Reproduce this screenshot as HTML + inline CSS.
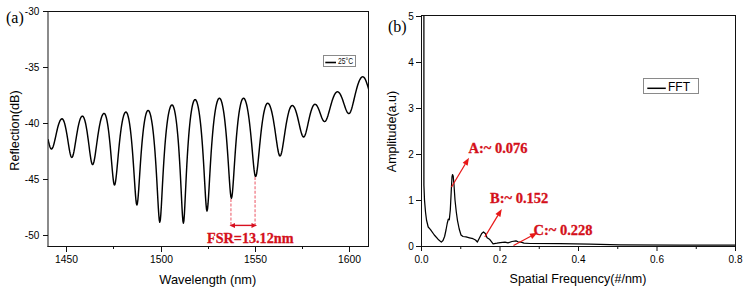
<!DOCTYPE html><html><head><meta charset="utf-8"><style>html,body{margin:0;padding:0;background:#fff;overflow:hidden}svg{display:block}</style></head><body><svg width="747" height="291" viewBox="0 0 747 291">
<rect width="747" height="291" fill="#fff"/>
<defs><clipPath id="cl"><rect x="48.0" y="11.0" width="320.5" height="235.0"/></clipPath><clipPath id="cr"><rect x="421.5" y="15.5" width="314.0" height="231.0"/></clipPath></defs>
<path d="M48.00,139.23 L48.17,140.02 L48.35,140.79 L48.52,141.55 L48.70,142.30 L48.88,143.02 L49.05,143.71 L49.23,144.38 L49.40,145.01 L49.58,145.60 L49.75,146.16 L49.92,146.68 L50.10,147.15 L50.27,147.57 L50.45,147.94 L50.62,148.26 L50.80,148.52 L50.98,148.73 L51.15,148.88 L51.33,148.97 L51.50,149.00 L51.94,148.82 L52.38,148.29 L52.81,147.43 L53.25,146.27 L53.69,144.86 L54.12,143.23 L54.56,141.43 L55.00,139.52 L55.44,137.54 L55.88,135.54 L56.31,133.54 L56.75,131.59 L57.19,129.72 L57.62,127.95 L58.06,126.29 L58.50,124.78 L58.94,123.41 L59.38,122.21 L59.81,121.18 L60.25,120.33 L60.69,119.66 L61.12,119.18 L61.56,118.90 L62.00,118.80 L62.41,118.91 L62.82,119.26 L63.23,119.83 L63.63,120.62 L64.04,121.64 L64.45,122.87 L64.86,124.32 L65.27,125.98 L65.67,127.83 L66.08,129.86 L66.49,132.06 L66.90,134.40 L67.31,136.86 L67.72,139.41 L68.12,142.00 L68.53,144.59 L68.94,147.12 L69.35,149.53 L69.76,151.74 L70.17,153.69 L70.58,155.30 L70.98,156.50 L71.39,157.25 L71.80,157.50 L72.24,157.22 L72.68,156.40 L73.12,155.08 L73.57,153.31 L74.01,151.18 L74.45,148.77 L74.89,146.16 L75.33,143.43 L75.78,140.64 L76.22,137.86 L76.66,135.14 L77.10,132.52 L77.54,130.04 L77.98,127.71 L78.42,125.57 L78.87,123.62 L79.31,121.88 L79.75,120.36 L80.19,119.07 L80.63,118.00 L81.08,117.17 L81.52,116.58 L81.96,116.22 L82.40,116.10 L82.83,116.23 L83.25,116.63 L83.68,117.28 L84.10,118.20 L84.53,119.38 L84.95,120.82 L85.38,122.51 L85.80,124.45 L86.22,126.64 L86.65,129.06 L87.08,131.70 L87.50,134.54 L87.92,137.56 L88.35,140.72 L88.78,143.98 L89.20,147.28 L89.62,150.56 L90.05,153.73 L90.47,156.68 L90.90,159.32 L91.32,161.53 L91.75,163.20 L92.17,164.25 L92.60,164.60 L93.08,164.21 L93.56,163.08 L94.04,161.26 L94.52,158.87 L95.00,156.03 L95.47,152.85 L95.95,149.47 L96.43,145.98 L96.91,142.48 L97.39,139.04 L97.87,135.72 L98.35,132.55 L98.83,129.58 L99.31,126.83 L99.79,124.31 L100.27,122.04 L100.75,120.03 L101.22,118.27 L101.70,116.79 L102.18,115.57 L102.66,114.62 L103.14,113.94 L103.62,113.54 L104.10,113.40 L104.53,113.56 L104.97,114.04 L105.40,114.85 L105.83,115.98 L106.27,117.44 L106.70,119.22 L107.13,121.35 L107.57,123.81 L108.00,126.61 L108.43,129.76 L108.87,133.24 L109.30,137.07 L109.73,141.22 L110.17,145.68 L110.60,150.41 L111.03,155.35 L111.47,160.44 L111.90,165.55 L112.33,170.51 L112.77,175.13 L113.20,179.15 L113.63,182.29 L114.07,184.31 L114.50,185.00 L114.97,184.28 L115.45,182.19 L115.92,178.94 L116.40,174.79 L116.88,170.04 L117.35,164.94 L117.83,159.71 L118.30,154.52 L118.78,149.48 L119.25,144.66 L119.73,140.14 L120.20,135.93 L120.67,132.05 L121.15,128.52 L121.62,125.34 L122.10,122.51 L122.58,120.02 L123.05,117.88 L123.53,116.07 L124.00,114.60 L124.48,113.46 L124.95,112.65 L125.43,112.16 L125.90,112.00 L126.36,112.18 L126.82,112.71 L127.28,113.60 L127.73,114.86 L128.19,116.48 L128.65,118.48 L129.11,120.87 L129.57,123.65 L130.03,126.85 L130.48,130.46 L130.94,134.51 L131.40,139.01 L131.86,143.97 L132.32,149.39 L132.78,155.27 L133.23,161.58 L133.69,168.27 L134.15,175.22 L134.61,182.27 L135.07,189.11 L135.53,195.35 L135.98,200.44 L136.44,203.81 L136.90,205.00 L137.37,203.77 L137.83,200.27 L138.30,195.01 L138.77,188.58 L139.23,181.56 L139.70,174.36 L140.17,167.27 L140.63,160.47 L141.10,154.06 L141.57,148.11 L142.03,142.62 L142.50,137.61 L142.97,133.07 L143.43,128.99 L143.90,125.34 L144.37,122.13 L144.83,119.33 L145.30,116.92 L145.77,114.91 L146.23,113.28 L146.70,112.01 L147.17,111.12 L147.63,110.58 L148.10,110.40 L148.59,110.59 L149.07,111.15 L149.56,112.09 L150.05,113.42 L150.54,115.15 L151.03,117.27 L151.51,119.81 L152.00,122.79 L152.49,126.22 L152.97,130.13 L153.46,134.53 L153.95,139.46 L154.44,144.95 L154.93,151.02 L155.41,157.71 L155.90,165.02 L156.39,172.95 L156.88,181.43 L157.36,190.33 L157.85,199.33 L158.34,207.93 L158.83,215.29 L159.31,220.37 L159.80,222.20 L160.31,220.13 L160.82,214.44 L161.33,206.31 L161.83,196.97 L162.34,187.31 L162.85,177.89 L163.36,168.99 L163.87,160.74 L164.38,153.18 L164.88,146.29 L165.39,140.05 L165.90,134.44 L166.41,129.40 L166.92,124.92 L167.43,120.94 L167.93,117.46 L168.44,114.44 L168.95,111.86 L169.46,109.70 L169.97,107.96 L170.47,106.62 L170.98,105.66 L171.49,105.09 L172.00,104.90 L172.47,105.09 L172.95,105.66 L173.43,106.62 L173.90,107.97 L174.38,109.71 L174.85,111.87 L175.32,114.46 L175.80,117.49 L176.28,120.98 L176.75,124.97 L177.22,129.47 L177.70,134.52 L178.18,140.16 L178.65,146.42 L179.12,153.34 L179.60,160.95 L180.08,169.26 L180.55,178.23 L181.03,187.75 L181.50,197.52 L181.97,207.00 L182.45,215.28 L182.93,221.09 L183.40,223.20 L183.89,220.83 L184.38,214.36 L184.86,205.29 L185.35,195.06 L185.84,184.67 L186.32,174.66 L186.81,165.31 L187.30,156.71 L187.79,148.87 L188.28,141.78 L188.76,135.38 L189.25,129.63 L189.74,124.49 L190.22,119.91 L190.71,115.87 L191.20,112.33 L191.69,109.27 L192.18,106.65 L192.66,104.47 L193.15,102.70 L193.64,101.34 L194.12,100.37 L194.61,99.79 L195.10,99.60 L195.60,99.79 L196.09,100.35 L196.59,101.29 L197.08,102.62 L197.58,104.34 L198.07,106.46 L198.57,109.01 L199.07,111.98 L199.56,115.40 L200.06,119.30 L200.55,123.70 L201.05,128.62 L201.55,134.10 L202.04,140.17 L202.54,146.84 L203.03,154.13 L203.53,162.03 L204.03,170.49 L204.52,179.34 L205.02,188.30 L205.51,196.84 L206.01,204.15 L206.50,209.19 L207.00,211.00 L207.52,209.13 L208.03,203.94 L208.55,196.44 L209.07,187.71 L209.58,178.59 L210.10,169.60 L210.62,161.04 L211.13,153.05 L211.65,145.69 L212.17,138.97 L212.68,132.86 L213.20,127.35 L213.72,122.40 L214.23,117.98 L214.75,114.06 L215.27,110.62 L215.78,107.64 L216.30,105.09 L216.82,102.96 L217.33,101.23 L217.85,99.90 L218.37,98.95 L218.88,98.39 L219.40,98.20 L219.90,98.38 L220.40,98.93 L220.90,99.84 L221.40,101.13 L221.90,102.79 L222.40,104.85 L222.90,107.30 L223.40,110.16 L223.90,113.45 L224.40,117.19 L224.90,121.38 L225.40,126.06 L225.90,131.23 L226.40,136.92 L226.90,143.12 L227.40,149.83 L227.90,157.00 L228.40,164.54 L228.90,172.27 L229.40,179.91 L229.90,186.98 L230.40,192.86 L230.90,196.80 L231.40,198.20 L231.90,196.80 L232.41,192.86 L232.91,186.98 L233.42,179.91 L233.92,172.27 L234.43,164.54 L234.93,157.00 L235.43,149.83 L235.94,143.12 L236.44,136.92 L236.95,131.23 L237.45,126.06 L237.95,121.38 L238.46,117.19 L238.96,113.45 L239.47,110.16 L239.97,107.30 L240.47,104.85 L240.98,102.79 L241.48,101.13 L241.99,99.84 L242.49,98.93 L243.00,98.38 L243.50,98.20 L244.00,98.37 L244.51,98.87 L245.01,99.70 L245.52,100.88 L246.02,102.40 L246.53,104.26 L247.03,106.48 L247.53,109.06 L248.04,112.00 L248.54,115.32 L249.05,119.00 L249.55,123.07 L250.05,127.50 L250.56,132.29 L251.06,137.41 L251.57,142.81 L252.07,148.42 L252.57,154.12 L253.08,159.73 L253.58,165.02 L254.09,169.69 L254.59,173.38 L255.10,175.77 L255.60,176.60 L256.10,175.87 L256.61,173.77 L257.11,170.48 L257.62,166.30 L258.12,161.50 L258.62,156.37 L259.13,151.10 L259.63,145.88 L260.14,140.81 L260.64,135.97 L261.15,131.43 L261.65,127.20 L262.15,123.31 L262.66,119.77 L263.16,116.57 L263.67,113.73 L264.17,111.24 L264.68,109.09 L265.18,107.28 L265.68,105.81 L266.19,104.66 L266.69,103.85 L267.20,103.36 L267.70,103.20 L268.21,103.34 L268.72,103.75 L269.24,104.44 L269.75,105.41 L270.26,106.65 L270.77,108.16 L271.29,109.95 L271.80,112.00 L272.31,114.32 L272.82,116.90 L273.34,119.72 L273.85,122.76 L274.36,126.01 L274.88,129.43 L275.39,132.98 L275.90,136.60 L276.41,140.21 L276.93,143.72 L277.44,147.03 L277.95,150.00 L278.46,152.50 L278.98,154.40 L279.49,155.59 L280.00,156.00 L280.51,155.62 L281.02,154.51 L281.54,152.73 L282.05,150.39 L282.56,147.60 L283.07,144.48 L283.59,141.16 L284.10,137.72 L284.61,134.28 L285.12,130.88 L285.64,127.60 L286.15,124.47 L286.66,121.53 L287.18,118.81 L287.69,116.32 L288.20,114.07 L288.71,112.07 L289.23,110.33 L289.74,108.86 L290.25,107.65 L290.76,106.71 L291.28,106.04 L291.79,105.63 L292.30,105.50 L292.77,105.60 L293.24,105.90 L293.71,106.39 L294.18,107.08 L294.65,107.96 L295.12,109.02 L295.60,110.26 L296.07,111.67 L296.54,113.24 L297.01,114.96 L297.48,116.80 L297.95,118.74 L298.42,120.77 L298.89,122.85 L299.36,124.95 L299.83,127.02 L300.30,129.02 L300.78,130.91 L301.25,132.62 L301.72,134.12 L302.19,135.34 L302.66,136.25 L303.13,136.81 L303.60,137.00 L304.08,136.80 L304.55,136.21 L305.03,135.26 L305.50,133.97 L305.98,132.41 L306.45,130.61 L306.93,128.64 L307.40,126.55 L307.88,124.39 L308.35,122.21 L308.82,120.05 L309.30,117.95 L309.78,115.94 L310.25,114.04 L310.73,112.27 L311.20,110.65 L311.68,109.20 L312.15,107.92 L312.62,106.82 L313.10,105.92 L313.57,105.21 L314.05,104.71 L314.52,104.40 L315.00,104.30 L315.40,104.36 L315.80,104.55 L316.20,104.86 L316.60,105.29 L317.00,105.83 L317.40,106.48 L317.80,107.23 L318.20,108.08 L318.60,109.01 L319.00,110.02 L319.40,111.08 L319.80,112.18 L320.20,113.32 L320.60,114.45 L321.00,115.58 L321.40,116.66 L321.80,117.70 L322.20,118.65 L322.60,119.50 L323.00,120.23 L323.40,120.82 L323.80,121.25 L324.20,121.51 L324.60,121.60 L325.14,121.42 L325.68,120.90 L326.21,120.06 L326.75,118.92 L327.29,117.53 L327.83,115.92 L328.36,114.16 L328.90,112.27 L329.44,110.32 L329.98,108.34 L330.51,106.38 L331.05,104.45 L331.59,102.60 L332.12,100.85 L332.66,99.22 L333.20,97.72 L333.74,96.37 L334.27,95.18 L334.81,94.16 L335.35,93.32 L335.89,92.66 L336.43,92.18 L336.96,91.90 L337.50,91.80 L337.98,91.88 L338.45,92.10 L338.93,92.47 L339.40,92.99 L339.88,93.65 L340.35,94.44 L340.82,95.36 L341.30,96.40 L341.77,97.55 L342.25,98.79 L342.72,100.11 L343.20,101.49 L343.68,102.91 L344.15,104.35 L344.62,105.78 L345.10,107.17 L345.57,108.50 L346.05,109.73 L346.52,110.84 L347.00,111.79 L347.47,112.56 L347.95,113.13 L348.42,113.48 L348.90,113.60 L349.48,113.37 L350.06,112.67 L350.64,111.55 L351.22,110.05 L351.80,108.22 L352.38,106.15 L352.95,103.88 L353.53,101.49 L354.11,99.04 L354.69,96.57 L355.27,94.15 L355.85,91.80 L356.43,89.56 L357.01,87.45 L357.59,85.50 L358.17,83.72 L358.75,82.13 L359.32,80.74 L359.90,79.54 L360.48,78.56 L361.06,77.79 L361.64,77.24 L362.22,76.91 L362.80,76.80 L363.23,76.88 L363.65,77.10 L364.07,77.48 L364.50,78.01 L364.93,78.68 L365.35,79.48 L365.78,80.42 L366.20,81.47 L366.62,82.64 L367.05,83.90 L367.48,85.24 L367.90,86.64 L368.32,88.09 L368.75,89.55 L369.18,91.01 L369.60,92.43 L370.02,93.79 L370.45,95.05 L370.88,96.18 L371.30,97.15 L371.73,97.94 L372.15,98.52 L372.57,98.88 L373.00,99.00" fill="none" stroke="#000" stroke-width="1.45" stroke-linejoin="round" clip-path="url(#cl)"/>
<path d="M47.5,11.5 H369 M368.5,11 V247 M47.5,246.5 H369" fill="none" stroke="#111" stroke-width="1"/>
<line x1="48" y1="11" x2="48" y2="247" stroke="#222" stroke-width="1.05"/>
<line x1="43" y1="11.5" x2="48" y2="11.5" stroke="#111" stroke-width="1"/>
<text x="39.3" y="14.8" text-anchor="end" font-family='"Liberation Sans", sans-serif' font-size="10">-30</text>
<line x1="43" y1="67.5" x2="48" y2="67.5" stroke="#111" stroke-width="1"/>
<text x="39.3" y="70.8" text-anchor="end" font-family='"Liberation Sans", sans-serif' font-size="10">-35</text>
<line x1="43" y1="123.5" x2="48" y2="123.5" stroke="#111" stroke-width="1"/>
<text x="39.3" y="126.8" text-anchor="end" font-family='"Liberation Sans", sans-serif' font-size="10">-40</text>
<line x1="43" y1="179.5" x2="48" y2="179.5" stroke="#111" stroke-width="1"/>
<text x="39.3" y="182.8" text-anchor="end" font-family='"Liberation Sans", sans-serif' font-size="10">-45</text>
<line x1="43" y1="235.5" x2="48" y2="235.5" stroke="#111" stroke-width="1"/>
<text x="39.3" y="238.8" text-anchor="end" font-family='"Liberation Sans", sans-serif' font-size="10">-50</text>
<line x1="66.5" y1="246" x2="66.5" y2="252" stroke="#111" stroke-width="1"/>
<text x="66.5" y="262.8" text-anchor="middle" font-family='"Liberation Sans", sans-serif' font-size="10.3">1450</text>
<line x1="161.5" y1="246" x2="161.5" y2="252" stroke="#111" stroke-width="1"/>
<text x="161.5" y="262.8" text-anchor="middle" font-family='"Liberation Sans", sans-serif' font-size="10.3">1500</text>
<line x1="255.5" y1="246" x2="255.5" y2="252" stroke="#111" stroke-width="1"/>
<text x="255.5" y="262.8" text-anchor="middle" font-family='"Liberation Sans", sans-serif' font-size="10.3">1550</text>
<line x1="349.5" y1="246" x2="349.5" y2="252" stroke="#111" stroke-width="1"/>
<text x="349.5" y="262.8" text-anchor="middle" font-family='"Liberation Sans", sans-serif' font-size="10.3">1600</text>
<line x1="113.5" y1="246" x2="113.5" y2="249" stroke="#111" stroke-width="1"/>
<line x1="208.5" y1="246" x2="208.5" y2="249" stroke="#111" stroke-width="1"/>
<line x1="302.5" y1="246" x2="302.5" y2="249" stroke="#111" stroke-width="1"/>
<text x="207.8" y="284" text-anchor="middle" font-family='"Liberation Sans", sans-serif' font-size="12.8">Wavelength (nm)</text>
<text transform="translate(18.5,130.5) rotate(-90)" text-anchor="middle" font-family='"Liberation Sans", sans-serif' font-size="12.7">Reflection(dB)</text>
<text x="6" y="22.8" font-family='"Liberation Serif", serif' font-size="16">(a)</text>
<rect x="323.5" y="55.5" width="32" height="11" fill="#fff" stroke="#8a8a8a" stroke-width="1"/>
<line x1="325.3" y1="62.5" x2="336" y2="62.5" stroke="#000" stroke-width="1.6"/>
<text x="338" y="64.3" font-family='"Liberation Sans", sans-serif' font-size="8.2" fill="#111" textLength="15.2" lengthAdjust="spacingAndGlyphs">25°C</text>
<line x1="230.9" y1="199" x2="230.9" y2="225" stroke="#f4a0a8" stroke-width="1.8" stroke-dasharray="3,1.6"/>
<line x1="255.1" y1="177" x2="255.1" y2="225" stroke="#f4a0a8" stroke-width="1.8" stroke-dasharray="3,1.6"/>
<line x1="233" y1="225.4" x2="253.5" y2="225.4" stroke="#d81020" stroke-width="1.4"/>
<path d="M229.5,225.4 L235,222.9 L235,227.9 Z" fill="#d81020"/>
<path d="M257,225.4 L251.5,222.9 L251.5,227.9 Z" fill="#d81020"/>
<text x="207" y="242.9" font-family='"Liberation Serif", serif' font-weight="bold" font-size="14.2" fill="#d4101a" stroke="#d4101a" stroke-width="0.3">FSR=13.12nm</text>
<path d="M423.90,0.00 L423.90,185.00 L424.50,200.00 L425.50,212.00 L426.50,220.00 L428.20,227.00 L430.50,229.60 L434.30,235.00 L438.00,239.20 L441.30,242.10 L443.00,240.50 L444.60,236.50 L446.00,230.00 L447.20,223.50 L448.30,219.20 L449.30,219.80 L450.30,210.00 L451.20,192.00 L452.00,177.00 L452.50,174.60 L453.20,176.00 L454.00,185.00 L455.00,200.00 L456.30,212.00 L457.50,220.60 L459.20,229.00 L461.00,235.00 L463.00,236.50 L466.10,236.90 L469.50,237.80 L473.00,238.70 L475.50,240.00 L477.40,242.00 L481.70,233.50 L483.50,232.00 L485.30,233.50 L487.10,237.80 L489.50,239.20 L493.10,243.80 L497.00,243.20 L500.30,242.60 L505.00,242.20 L508.00,242.80 L512.00,241.50 L516.00,240.90 L518.00,241.80 L521.00,242.20 L524.00,243.20 L530.00,243.50 L560.00,243.70 L590.00,244.20 L620.00,244.80 L680.00,245.00 L735.00,245.20" fill="none" stroke="#000" stroke-width="1.25" stroke-linejoin="round" clip-path="url(#cr)"/>
<path d="M421,15.5 H736 M735.5,15 V247 M421.5,15 V247 M421,246.5 H736" fill="none" stroke="#111" stroke-width="1"/>
<line x1="416" y1="246.5" x2="421.5" y2="246.5" stroke="#111" stroke-width="1"/>
<text x="413.8" y="249.8" text-anchor="end" font-family='"Liberation Sans", sans-serif' font-size="10">0</text>
<line x1="416" y1="200.5" x2="421.5" y2="200.5" stroke="#111" stroke-width="1"/>
<text x="413.8" y="203.8" text-anchor="end" font-family='"Liberation Sans", sans-serif' font-size="10">1</text>
<line x1="416" y1="154.5" x2="421.5" y2="154.5" stroke="#111" stroke-width="1"/>
<text x="413.8" y="157.8" text-anchor="end" font-family='"Liberation Sans", sans-serif' font-size="10">2</text>
<line x1="416" y1="108.5" x2="421.5" y2="108.5" stroke="#111" stroke-width="1"/>
<text x="413.8" y="111.8" text-anchor="end" font-family='"Liberation Sans", sans-serif' font-size="10">3</text>
<line x1="416" y1="62.5" x2="421.5" y2="62.5" stroke="#111" stroke-width="1"/>
<text x="413.8" y="65.8" text-anchor="end" font-family='"Liberation Sans", sans-serif' font-size="10">4</text>
<line x1="416" y1="16.5" x2="421.5" y2="16.5" stroke="#111" stroke-width="1"/>
<text x="413.8" y="19.8" text-anchor="end" font-family='"Liberation Sans", sans-serif' font-size="10">5</text>
<line x1="421.50" y1="246" x2="421.50" y2="251" stroke="#111" stroke-width="1"/>
<text x="421.5" y="262.6" text-anchor="middle" font-family='"Liberation Sans", sans-serif' font-size="10">0.0</text>
<line x1="460.75" y1="246" x2="460.75" y2="249" stroke="#111" stroke-width="1"/>
<line x1="500.00" y1="246" x2="500.00" y2="251" stroke="#111" stroke-width="1"/>
<text x="500.0" y="262.6" text-anchor="middle" font-family='"Liberation Sans", sans-serif' font-size="10">0.2</text>
<line x1="539.25" y1="246" x2="539.25" y2="249" stroke="#111" stroke-width="1"/>
<line x1="578.50" y1="246" x2="578.50" y2="251" stroke="#111" stroke-width="1"/>
<text x="578.5" y="262.6" text-anchor="middle" font-family='"Liberation Sans", sans-serif' font-size="10">0.4</text>
<line x1="617.75" y1="246" x2="617.75" y2="249" stroke="#111" stroke-width="1"/>
<line x1="657.00" y1="246" x2="657.00" y2="251" stroke="#111" stroke-width="1"/>
<text x="657.0" y="262.6" text-anchor="middle" font-family='"Liberation Sans", sans-serif' font-size="10">0.6</text>
<line x1="696.25" y1="246" x2="696.25" y2="249" stroke="#111" stroke-width="1"/>
<line x1="735.50" y1="246" x2="735.50" y2="251" stroke="#111" stroke-width="1"/>
<text x="735.5" y="262.6" text-anchor="middle" font-family='"Liberation Sans", sans-serif' font-size="10">0.8</text>
<text x="578" y="282.5" text-anchor="middle" font-family='"Liberation Sans", sans-serif' font-size="12.5">Spatial Frequency(#/nm)</text>
<text transform="translate(396,131.5) rotate(-90)" text-anchor="middle" font-family='"Liberation Sans", sans-serif' font-size="12.5">Amplitude(a.u)</text>
<text x="388" y="31.5" font-family='"Liberation Serif", serif' font-size="16">(b)</text>
<rect x="643.5" y="78.5" width="55" height="15" fill="#fff" stroke="#8a8a8a" stroke-width="1"/>
<line x1="647.3" y1="88.3" x2="665.8" y2="88.3" stroke="#000" stroke-width="1.5"/>
<text x="668" y="90.5" font-family='"Liberation Sans", sans-serif' font-size="12">FFT</text>
<line x1="451.5" y1="187.0" x2="465.14" y2="164.23" stroke="#e81818" stroke-width="1.25"/>
<path d="M469.0,157.8 L467.63,165.72 L462.66,162.74 Z" fill="#e81818"/>
<line x1="484.8" y1="237.0" x2="497.91" y2="215.41" stroke="#e81818" stroke-width="1.25"/>
<path d="M501.8,209.0 L500.39,216.92 L495.43,213.91 Z" fill="#e81818"/>
<line x1="513.5" y1="245.5" x2="530.78" y2="236.32" stroke="#e81818" stroke-width="1.25"/>
<path d="M537.4,232.8 L532.14,238.88 L529.42,233.76 Z" fill="#e81818"/>
<text x="468.5" y="153" font-family='"Liberation Serif", serif' font-weight="bold" font-size="14.5" fill="#d4101a" stroke="#d4101a" stroke-width="0.3">A:~ 0.076</text>
<text x="490" y="202.8" font-family='"Liberation Serif", serif' font-weight="bold" font-size="14.5" fill="#d4101a" stroke="#d4101a" stroke-width="0.3">B:~ 0.152</text>
<text x="533.5" y="234.6" font-family='"Liberation Serif", serif' font-weight="bold" font-size="14.5" fill="#d4101a" stroke="#d4101a" stroke-width="0.3">C:~ 0.228</text>
</svg></body></html>
